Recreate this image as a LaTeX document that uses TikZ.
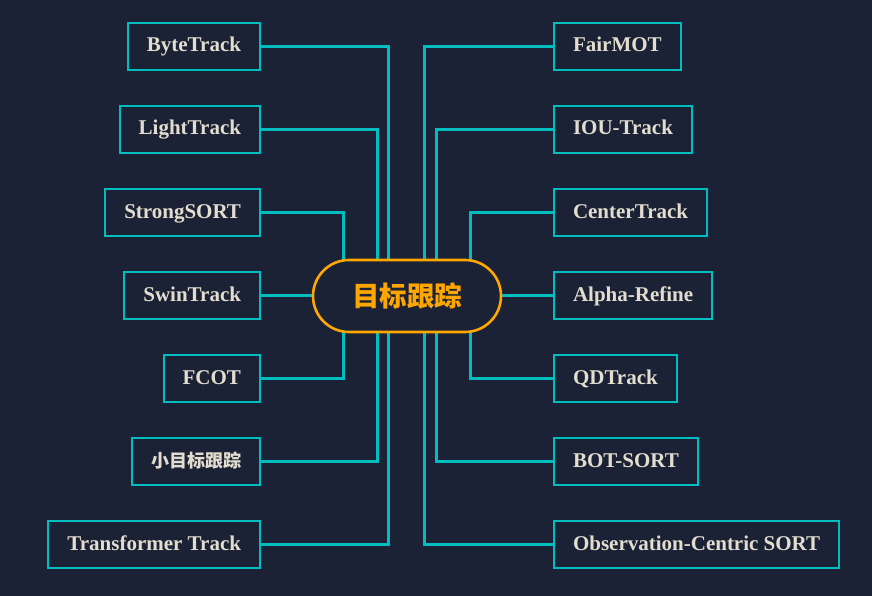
\documentclass[tikz,border=0pt]{standalone}
\usepackage{fontspec}
\setmainfont{Liberation Serif}
\newfontfamily\cjk{Noto Sans CJK SC}
\usetikzlibrary{backgrounds}
\definecolor{bgc}{RGB}{27,34,53}
\definecolor{cyanc}{RGB}{0,190,192}
\definecolor{txtc}{RGB}{226,221,206}
\definecolor{orc}{RGB}{255,166,0}
\tikzset{
  leaf/.style={draw=cyanc, line width=2pt, fill=bgc, text=txtc, minimum height=47pt, inner xsep=19pt, inner ysep=0pt, text height=14pt, text depth=3pt, font=\fontsize{21}{24}\selectfont\bfseries},
  hub/.style={draw=orc, line width=2.6pt, fill=bgc, text=orc, minimum width=188pt, minimum height=72pt, rounded corners=36pt, inner sep=0pt, font=\fontsize{27.5}{32}\selectfont\cjk\bfseries},
  conn/.style={draw=cyanc, line width=3pt}
}
\begin{document}
\begin{tikzpicture}[x=1pt,y=-1pt]
\useasboundingbox (0,0) rectangle (872,596);
\node[hub] (c) at (407,296) {目标跟踪};
% left
\node[leaf,anchor=east] (l1) at (261,46.5) {ByteTrack};
\node[leaf,anchor=east] (l2) at (261,129.5) {LightTrack};
\node[leaf,anchor=east] (l3) at (261,212.5) {StrongSORT};
\node[leaf,anchor=east] (l4) at (261,295.5) {SwinTrack};
\node[leaf,anchor=east] (l5) at (261,378.5) {FCOT};
\node[leaf,anchor=east,font=\fontsize{18}{22}\selectfont\cjk\bfseries,text height=15pt,text depth=3pt] (l6) at (261,461.5) {小目标跟踪};
\node[leaf,anchor=east] (l7) at (261,544.5) {Transformer Track};
% right
\node[leaf,anchor=west] (r1) at (553,46.5) {FairMOT};
\node[leaf,anchor=west] (r2) at (553,129.5) {IOU-Track};
\node[leaf,anchor=west] (r3) at (553,212.5) {CenterTrack};
\node[leaf,anchor=west] (r4) at (553,295.5) {Alpha-Refine};
\node[leaf,anchor=west] (r5) at (553,378.5) {QDTrack};
\node[leaf,anchor=west] (r6) at (553,461.5) {BOT-SORT};
\node[leaf,anchor=west] (r7) at (553,544.5) {Observation-Centric SORT};
% junction points
\coordinate (pa) at (388.7,296);
\coordinate (pb) at (377,296);
\coordinate (pc) at (343.3,296);
\coordinate (qa) at (424.3,296);
\coordinate (qb) at (436,296);
\coordinate (qc) at (470.3,296);
\begin{scope}[on background layer]
\fill[bgc] (0,0) rectangle (872,596);
\draw[conn] (l1.east) -| (pa);
\draw[conn] (l2.east) -| (pb);
\draw[conn] (l3.east) -| (pc);
\draw[conn] (l4.east) -- (l4.east -| c.west);
\draw[conn] (l5.east) -| (pc);
\draw[conn] (l6.east) -| (pb);
\draw[conn] (l7.east) -| (pa);
\draw[conn] (r1.west) -| (qa);
\draw[conn] (r2.west) -| (qb);
\draw[conn] (r3.west) -| (qc);
\draw[conn] (r4.west) -- (r4.west -| c.east);
\draw[conn] (r5.west) -| (qc);
\draw[conn] (r6.west) -| (qb);
\draw[conn] (r7.west) -| (qa);
\end{scope}
\end{tikzpicture}
\end{document}
